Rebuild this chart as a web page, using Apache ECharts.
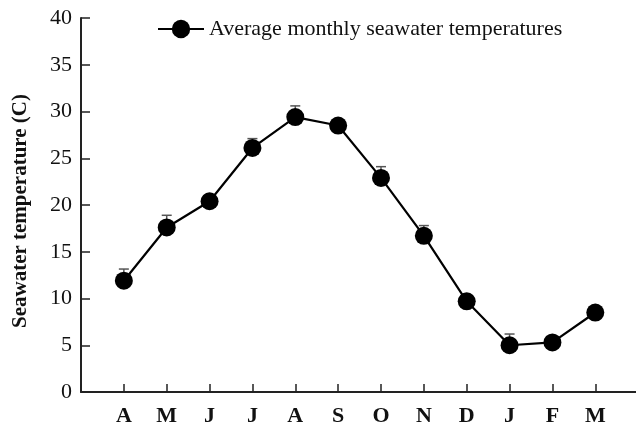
<!DOCTYPE html>
<html><head><meta charset="utf-8">
<script src="https://cdn.jsdelivr.net/npm/echarts@6/dist/echarts.min.js"></script>
<style>html,body{margin:0;padding:0;background:#fff}#c{width:636px;height:427px}</style>
</head><body><div id="c"></div>
<script>
var months = ['A','M','J','J','A','S','O','N','D','J','F','M'];
var temps = [11.9, 17.6, 20.4, 26.1, 29.4, 28.5, 22.9, 16.7, 9.7, 5.0, 5.3, 8.5];
var errors = [1.25, 1.3, 0.6, 1.0, 1.2, 0.5, 1.2, 1.1, 0.5, 1.2, 0.5, 0.5];
var yTicks = [0,5,10,15,20,25,30,35,40];
var seriesName = 'Average monthly seawater temperatures';
var yName = 'Seawater temperature (C)';

var font = '"Liberation Serif","Times New Roman",serif';
var lineData = temps.map(function(v,i){return [i+1, v];});
var errData = temps.map(function(v,i){return [i+1, v, v+errors[i]];});

var chart = echarts.init(document.getElementById('c'));
chart.setOption({
  animation:false,
  grid:{left:81,right:0,top:18,bottom:34},
  legend:{
    data:[seriesName], left:152, top:13, itemWidth:46, itemHeight:23, itemGap:4,
    textStyle:{fontFamily:font,fontSize:22,color:'#111'}
  },
  xAxis:{
    type:'value', min:0, max:12.95, interval:1,
    axisLine:{lineStyle:{color:'#222',width:2}},
    axisTick:{inside:true,length:8,lineStyle:{color:'#222',width:1.5}},
    splitLine:{show:false},
    axisLabel:{showMaxLabel:false, margin:13, fontFamily:font, fontSize:22, fontWeight:'bold', color:'#111',
      formatter:function(v){return (v>=1 && v<=months.length) ? months[v-1] : '';}}
  },
  yAxis:{
    type:'value', min:yTicks[0], max:yTicks[yTicks.length-1], interval:5,
    name:yName, nameLocation:'middle', nameGap:50,
    nameTextStyle:{fontFamily:font,fontSize:21,fontWeight:'bold',color:'#111',padding:[0,0,0,-12]},
    axisLine:{show:true,lineStyle:{color:'#222',width:2}},
    axisTick:{show:true,inside:true,length:9,lineStyle:{color:'#222',width:1.5}},
    splitLine:{show:false},
    axisLabel:{margin:9,fontFamily:font,fontSize:22,color:'#111'}
  },
  series:[
    {
      type:'custom', z:1, silent:true,
      data:errData,
      renderItem:function(params,api){
        var x = api.value(0);
        var p0 = api.coord([x, api.value(1)]);
        var p1 = api.coord([x, api.value(2)]);
        var st = {stroke:'#555',lineWidth:1.5};
        return {type:'group',children:[
          {type:'line',shape:{x1:p0[0],y1:p0[1],x2:p1[0],y2:p1[1]},style:st},
          {type:'line',shape:{x1:p1[0]-5,y1:p1[1],x2:p1[0]+5,y2:p1[1]},style:st}
        ]};
      }
    },
    {
      name:seriesName, type:'line', z:3, data:lineData,
      symbol:'circle', symbolSize:18,
      lineStyle:{color:'#000',width:2.2},
      itemStyle:{color:'#000'}
    }
  ]
});
</script></body></html>
